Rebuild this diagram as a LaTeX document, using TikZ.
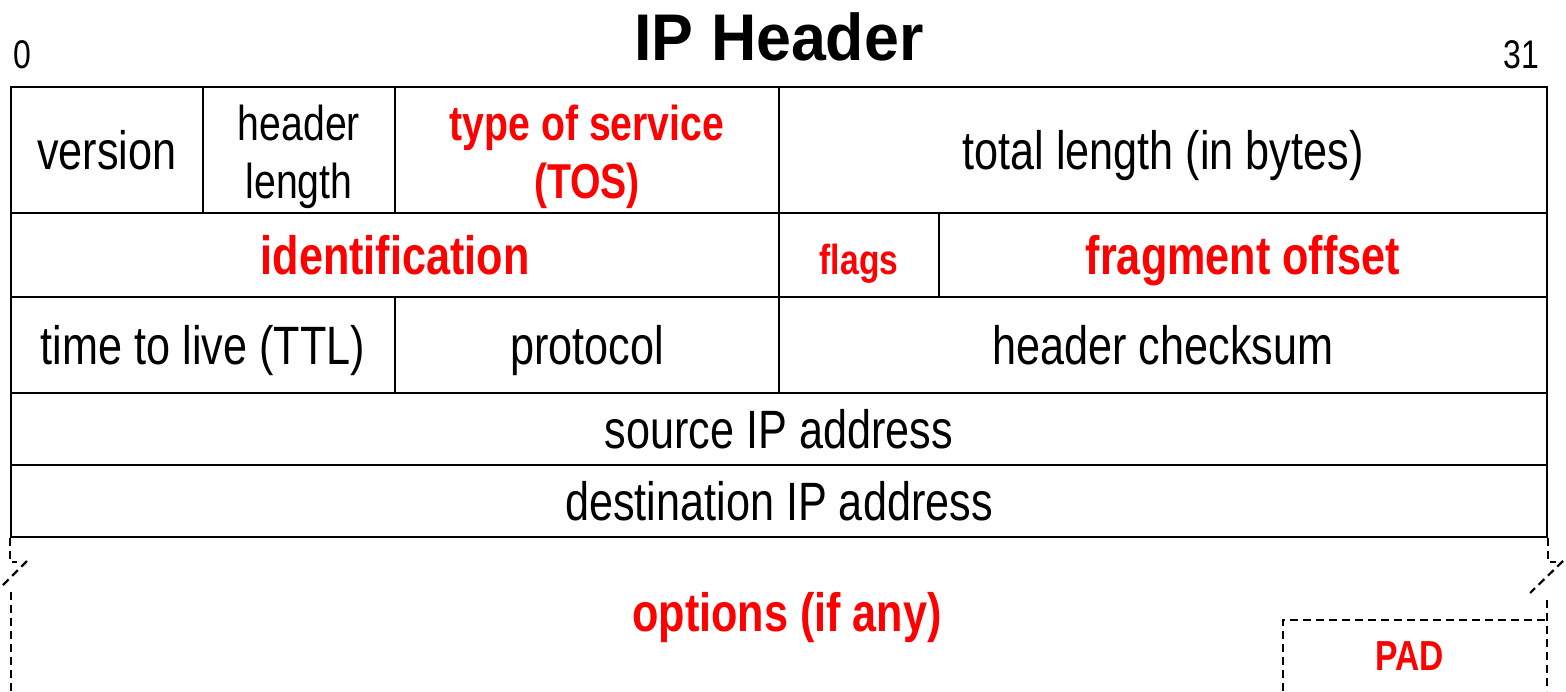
\documentclass[tikz,border=0pt]{standalone}
\usepackage{fontspec}
\setmainfont{Liberation Sans}[FakeStretch=0.8]
\newfontfamily\titlefont{Liberation Sans}[FakeStretch=0.95]
\usetikzlibrary{positioning,fit}
\definecolor{ipred}{rgb}{1, 0, 0}
\tikzset{%
    field/.style={draw, line width=1pt, inner sep=0pt},
    txt/.style={inner sep=0pt, text height=24pt, text depth=5pt, font=\fontsize{27}{29}\selectfont},
    hot/.style={inner sep=0pt, text height=24pt, text depth=5pt, text=ipred, font=\fontsize{27}{29}\selectfont\bfseries},
    pair/.style={align=center, inner sep=0pt, yshift=-3.5pt},
    brk/.style={line width=1.1pt, dash pattern=on 4pt off 2.5pt},
    bitnum/.style={font=\fontsize{20}{22}\selectfont},
}

\begin{document}
\begin{tikzpicture}[x=0.5pt, y=-0.5pt]
    \useasboundingbox (0,0) rectangle (1566,691);

    % title and bit numbers
    \node[font=\titlefont\fontsize{33}{35}\selectfont\bfseries] (title) at (779,37) {IP Header};
    \node[bitnum] (bit0) at (22,55) {0};
    \node[bitnum] (bit31) at (1521,55) {31};

    % first word
    \node[field, fit={(11,87)(203,213)}] (version) {};
    \node[field, fit={(203,87)(395,213)}] (hlen) {};
    \node[field, fit={(395,87)(779,213)}] (tos) {};
    \node[field, fit={(779,87)(1547,213)}] (tlen) {};
    \node[txt] (versiontxt) at (version) {version};
    \node[pair, font=\fontsize{24.5}{29}\selectfont] (hlentxt) at (hlen) {header\\length};
    \node[pair, text=ipred, font=\fontsize{24.5}{29}\selectfont\bfseries] (tostxt) at (tos) {type of service\\(TOS)};
    \node[txt] (tlentxt) at (tlen) {total length (in bytes)};

    % second word
    \node[field, fit={(11,213)(779,297)}] (ident) {};
    \node[field, fit={(779,213)(939,297)}] (flags) {};
    \node[field, fit={(939,213)(1547,297)}] (frag) {};
    \node[hot] (identtxt) at (ident) {identification};
    \node[hot, text height=22pt, text depth=3pt, font=\fontsize{21}{23}\selectfont\bfseries] (flagstxt) at (flags) {flags};
    \node[hot] (fragtxt) at (frag) {fragment offset};

    % third word
    \node[field, fit={(11,297)(395,393)}] (ttl) {};
    \node[field, fit={(395,297)(779,393)}] (proto) {};
    \node[field, fit={(779,297)(1547,393)}] (csum) {};
    \node[txt] (ttltxt) at (ttl) {time to live (TTL)};
    \node[txt] (prototxt) at (proto) {protocol};
    \node[txt] (csumtxt) at (csum) {header checksum};

    % addresses
    \node[field, fit={(11,393)(1547,465)}] (src) {};
    \node[field, fit={(11,465)(1547,537)}] (dst) {};
    \node[txt] (srctxt) at (src) {source IP address};
    \node[txt] (dsttxt) at (dst) {destination IP address};

    % options
    \node[hot] (opts) at (787,612) {options (if any)};
    \node[hot, text height=22pt, text depth=3pt, font=\fontsize{21}{23}\selectfont\bfseries] (pad) at (1410,651) {PAD};

    % break marks
    \draw[brk] (dst.south west) -- ++(0,24) -- ++(7,0);
    \draw[brk] (27,561) -- (3,585);
    \draw[brk] (11,592) -- (11,691);
    \draw[brk] (dst.south east) -- ++(0,24) -- ++(8,0);
    \draw[brk] (1563,561) -- (1530,593);
    \draw[brk] (1547,600) -- (1547,691);
    \draw[brk] (1283,691) -- (1283,620) -- (1547,620);

\end{tikzpicture}
\end{document}
